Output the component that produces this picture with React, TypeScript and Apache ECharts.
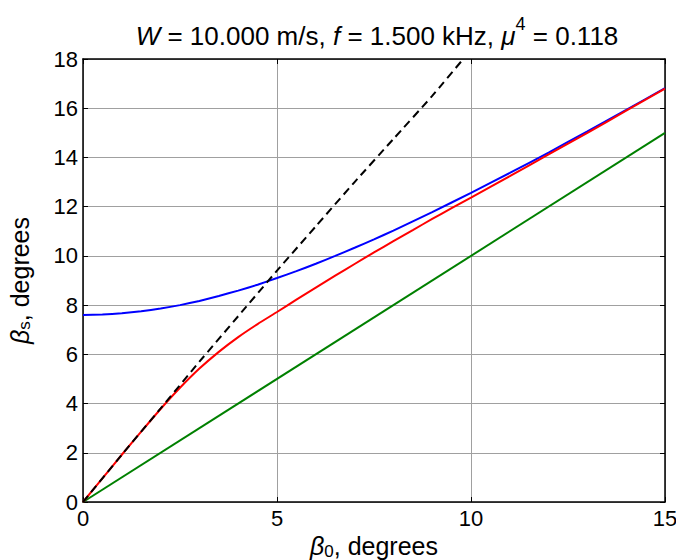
import React, { useEffect, useRef } from "react";
import * as echarts from "echarts";

const xTicks = [0, 5, 10, 15];
const yTicks = [0, 2, 4, 6, 8, 10, 12, 14, 16, 18];

// beta_0 sample positions (degrees)
const blueX = [0, 0.5, 1, 1.5, 2, 2.5, 3, 3.5, 4, 4.5, 5, 5.5, 6, 6.5, 7, 7.5, 8, 9, 10, 11, 12, 13, 14, 15];
const blueY = [7.6, 7.62, 7.67, 7.75, 7.86, 8.0, 8.17, 8.37, 8.59, 8.83, 9.1, 9.38, 9.68, 10.0, 10.33, 10.67, 11.03, 11.78, 12.56, 13.37, 14.2, 15.06, 15.93, 16.82];

const redX = [0, 0.5, 1, 1.5, 2, 2.5, 3, 3.5, 4, 4.5, 5, 5.5, 6, 6.5, 7, 7.5, 8, 8.5, 9, 9.5, 10, 11, 12, 13, 14, 15];
const redY = [0, 0.96, 1.92, 2.86, 3.78, 4.64, 5.42, 6.1, 6.7, 7.23, 7.72, 8.22, 8.71, 9.2, 9.67, 10.14, 10.6, 11.05, 11.5, 11.94, 12.37, 13.24, 14.12, 15.0, 15.9, 16.8];

const greenX = [0, 15];
const greenY = [0, 15];

const dashX = [0, 1, 2, 3, 4, 5, 6, 7, 8, 9, 9.8];
const dashY = [0, 1.92, 3.8, 5.7, 7.55, 9.4, 11.2, 13.0, 14.75, 16.5, 18.0];

const zip = (xs: number[], ys: number[]) => xs.map((x, i) => [x, ys[i]]);

const FONT = "'Liberation Sans', Arial, sans-serif";

export default function App() {
  const ref = useRef<HTMLDivElement>(null);
  useEffect(() => {
    document.body.style.margin = "0";
    const chart = echarts.init(ref.current!, null, { renderer: "svg" });
    const axisCommon = {
      type: "value" as const,
      axisLine: { show: true, onZero: false, lineStyle: { color: "#000", width: 1.5 } },
      axisTick: { show: true, inside: true, length: 5, lineStyle: { color: "#000", width: 1 } },
    };
    const nameRich = {
      g: { fontFamily: FONT, fontSize: 25, fontStyle: "italic", color: "#000", lineHeight: 26, verticalAlign: "top" },
      n: { fontFamily: FONT, fontSize: 25, color: "#000", lineHeight: 26, verticalAlign: "top" },
      sub: { fontFamily: FONT, fontSize: 17, color: "#000", lineHeight: 15, verticalAlign: "bottom" },
    };
    chart.setOption({
      animation: false,
      backgroundColor: "#fff",
      title: {
        text: "{i|W}{n| = 10.000 m/s, }{i|f}{n| = 1.500 kHz, }{i|μ}{sup|4}{n| = 0.118}",
        left: 372,
        top: 10,
        textAlign: "center",
        textStyle: {
          fontWeight: "normal",
          rich: {
            n: { fontFamily: FONT, fontSize: 26, fontWeight: "normal", color: "#000", lineHeight: 34, verticalAlign: "bottom" },
            i: { fontFamily: FONT, fontSize: 26, fontWeight: "normal", fontStyle: "italic", color: "#000", lineHeight: 34, verticalAlign: "bottom" },
            sup: { fontFamily: FONT, fontSize: 18, fontWeight: "normal", color: "#000", lineHeight: 18, verticalAlign: "top" },
          },
        },
      },
      grid: { left: 83, right: 11, top: 59, bottom: 58, containLabel: false, outerBoundsMode: "none" },
      xAxis: [
        {
          ...axisCommon,
          position: "bottom",
          min: 0,
          max: 15,
          interval: 5,
          axisLabel: { fontFamily: FONT, fontSize: 22, color: "#000", margin: 5, formatter: (v: number) => (xTicks.includes(v) ? String(v) : "") },
          splitLine: { show: true, lineStyle: { color: "#a0a0a0", width: 1 } },
          name: "{g|β}{sub|0}{n|, degrees}",
          nameLocation: "middle",
          nameGap: 24,
          nameTextStyle: { rich: nameRich },
        },
        {
          ...axisCommon,
          position: "top",
          min: 0,
          max: 15,
          interval: 5,
          axisLabel: { show: false },
          splitLine: { show: false },
        },
      ],
      yAxis: [
        {
          ...axisCommon,
          position: "left",
          min: 0,
          max: 18,
          interval: 2,
          axisLabel: { fontFamily: FONT, fontSize: 22, color: "#000", margin: 5, formatter: (v: number) => (yTicks.includes(v) ? String(v) : "") },
          splitLine: { show: true, lineStyle: { color: "#a0a0a0", width: 1 } },
          name: "{g|β}{sub|s}{n|, degrees}",
          nameLocation: "middle",
          nameGap: 50,
          nameRotate: 90,
          nameTextStyle: { rich: nameRich },
        },
        {
          ...axisCommon,
          position: "right",
          min: 0,
          max: 18,
          interval: 2,
          axisLabel: { show: false },
          splitLine: { show: false },
        },
      ],
      series: [
        {
          type: "line",
          data: zip(greenX, greenY),
          showSymbol: false,
          lineStyle: { color: "#008000", width: 2 },
          z: 3,
        },
        {
          type: "line",
          data: zip(blueX, blueY),
          showSymbol: false,
          smooth: 0.15,
          lineStyle: { color: "#0000ff", width: 2 },
          z: 3,
        },
        {
          type: "line",
          data: zip(redX, redY),
          showSymbol: false,
          smooth: 0.15,
          lineStyle: { color: "#ff0000", width: 2 },
          z: 4,
        },
        {
          type: "line",
          data: zip(dashX, dashY),
          showSymbol: false,
          smooth: 0.15,
          lineStyle: { color: "#000", width: 2, type: [8, 5] },
          z: 5,
        },
      ],
    });
    return () => chart.dispose();
  }, []);
  return <div ref={ref} style={{ width: 676, height: 560 }} />;
}
